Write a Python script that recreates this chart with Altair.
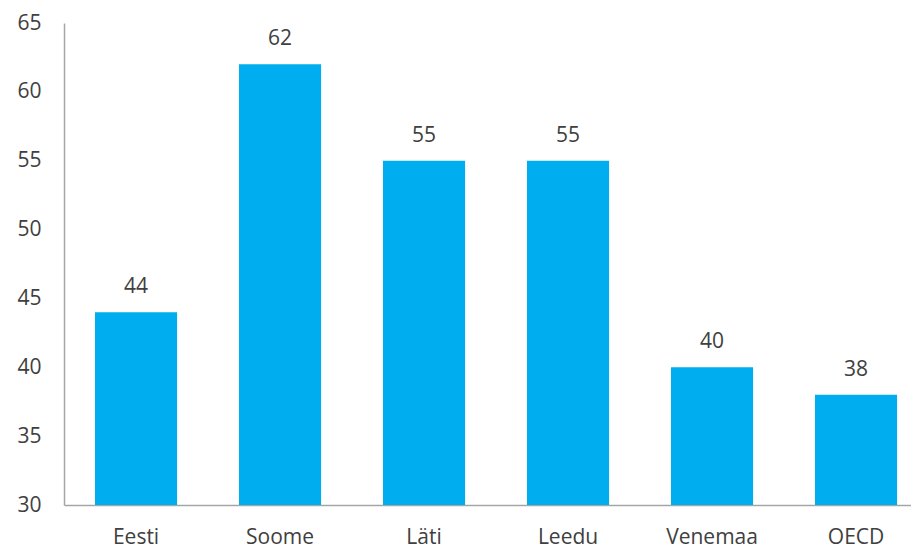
import altair as alt
import pandas as pd

categories = ["Eesti", "Soome", "Läti", "Leedu", "Venemaa", "OECD"]
values = [44, 62, 55, 55, 40, 38]
y_ticks = [30, 35, 40, 45, 50, 55, 60, 65]

df = pd.DataFrame({"country": categories, "value": values})

FONT = "Open Sans"
TXT = "#404040"

x = alt.X("country:N", sort=categories, title=None,
          scale=alt.Scale(paddingInner=0.43, paddingOuter=0.156, align=0.69),
          axis=alt.Axis(labelAngle=0, labelFontSize=21, labelFont=FONT, labelColor=TXT,
                        labelBaseline="alphabetic", ticks=False, labelPadding=38,
                        domainColor="#A6A6A6", domainWidth=1.5))
y = alt.Y("value:Q", title=None,
          scale=alt.Scale(domain=[30, 65], nice=False, zero=False),
          axis=alt.Axis(values=y_ticks, grid=False, ticks=False, labelFontSize=21, labelFont=FONT,
                        labelColor=TXT, labelPadding=23, domainColor="#A6A6A6", domainWidth=1.5))

base = alt.Chart(df)
bars = base.mark_bar(color="#00AEEF").encode(x=x, y=y, y2=alt.datum(30))
labels = base.mark_text(baseline="alphabetic", dy=-19, fontSize=21, font=FONT, color=TXT).encode(
    x=alt.X("country:N", sort=categories), y="value:Q", text="value:Q")

chart = alt.layer(bars, labels).properties(
    width=847, height=482,
    autosize=alt.AutoSizeParams(type="none"),
    padding={"left": 56, "top": 15, "right": 0, "bottom": 44},
).configure_view(stroke=None)

chart.save("out.html", embed_options={"renderer": "svg", "actions": False})
